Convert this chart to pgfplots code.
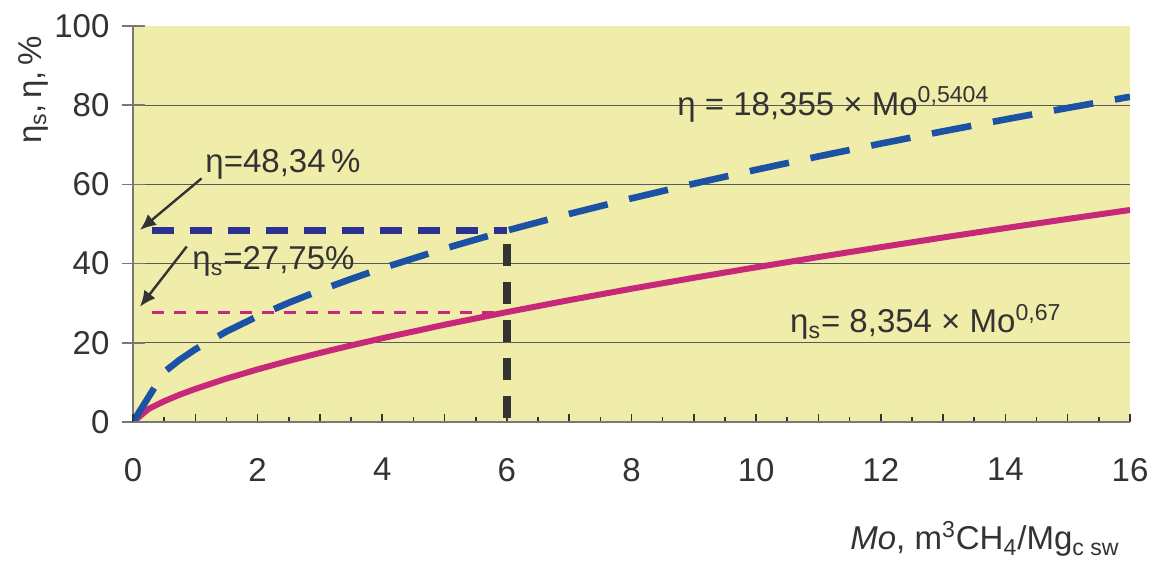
\documentclass[border=0pt]{standalone}
\usepackage{fontspec}
\setmainfont{Liberation Sans}
\usepackage{pgfplots}
\pgfplotsset{compat=1.18}
\usetikzlibrary{arrows.meta}
\definecolor{bgy}{RGB}{240,236,170}
\definecolor{etablue}{RGB}{28,82,165}
\definecolor{navy}{RGB}{43,50,145}
\definecolor{mag}{RGB}{200,40,122}
\definecolor{darkg}{RGB}{51,51,51}
\definecolor{gridg}{RGB}{90,90,90}
\definecolor{axg}{RGB}{120,120,120}
\newcommand\bigf{\fontsize{16.5}{19.8}\selectfont}
\begin{document}
\begin{tikzpicture}
\path[use as bounding box] (0,0) rectangle (575.5pt,280.5pt);
\begin{axis}[
  at={(66.5pt,69.5pt)}, anchor=south west,
  scale only axis, width=498.5pt, height=198pt,
  xmin=0,xmax=16,ymin=0,ymax=100,
  axis lines*=left,
  axis line style={axg, line width=0.8pt},
  axis background/.style={fill=bgy},
  xtick=\empty,
  ytick={0,20,...,100},
  extra y ticks={20,40,60,80},
  extra y tick labels={},
  extra y tick style={grid=major},
  grid style={gridg, line width=0.6pt},
  tick align=center,
  major tick length=11.5pt,
  tick style={axg, line width=0.8pt},
  yticklabel style={font=\bigf, text=darkg, xshift=-2.5pt},
  /pgf/number format/assume math mode=true,
]
\addplot[darkg, line width=4pt, dash pattern=on 11pt off 8pt, dash phase=17pt] coordinates {(6,0) (6,48.34)};
\addplot[navy, line width=3.8pt, dash pattern=on 11pt off 8pt] coordinates {(0.3,48.34) (6,48.34)};
\addplot[mag, line width=1.6pt, dash pattern=on 6pt off 5pt] coordinates {(0.3,27.75) (6,27.75)};
\addplot[mag, line width=3pt] coordinates {
(0,0) (0.25,3.30) (0.5,5.25) (0.75,6.89) (1,8.354)
(1.5,10.96) (2,13.29) (2.5,15.44) (3,17.44) (3.5,19.34) (4,21.15) (5,24.56)
(6,27.75) (7,30.77) (8,33.65) (9,36.41) (10,39.07) (11,41.65) (12,44.15)
(13,46.59) (14,48.96) (15,51.27) (16,53.54)};
\addplot[etablue, line width=3.3pt, dash pattern=on 20pt off 11pt] coordinates {
(0,0) (0.5,12.62) (0.75,15.71) (1,18.355)
(1.5,22.85) (2,26.70) (2.5,30.12) (3,33.24) (3.5,36.12) (4,38.83) (5,43.80)
(6,48.34) (7,52.54) (8,56.47) (9,60.18) (10,63.70) (11,67.07) (12,70.30)
(13,73.41) (14,76.41) (15,79.31) (16,82.12)};
\node[anchor=base west, font=\bigf, text=darkg, inner sep=0pt] at (axis cs:8.73,77.5) {η = 18,355 × Mo\textsuperscript{0,5404}};
\node[anchor=base west, font=\bigf, text=darkg, inner sep=0pt] at (axis cs:10.54,22.5) {η\textsubscript{s}= 8,354 × Mo\textsuperscript{0,67}};
\node[anchor=base west, font=\bigf, text=darkg, inner sep=0pt] at (axis cs:1.156,63.1) {η=48,34\,\%};
\node[anchor=base west, font=\bigf, text=darkg, inner sep=0pt] at (axis cs:0.947,38.4) {η\textsubscript{s}=27,75\%};
\draw[darkg, line width=1.2pt, -{Latex[length=8pt,width=7pt]}] (axis cs:1.10,61.5) -- (axis cs:0.112,48.5);
\draw[darkg, line width=1.2pt, -{Latex[length=8pt,width=7pt]}] (axis cs:0.862,44.3) -- (axis cs:0.112,29.1);
\end{axis}
\begin{axis}[
  at={(66.5pt,69.5pt)}, anchor=south west,
  scale only axis, width=498.5pt, height=198pt,
  xmin=0,xmax=16,ymin=0,ymax=100,
  axis x line*=bottom, axis y line=none,
  axis line style={axg, line width=0.8pt},
  ytick=\empty,
  xtick={0,...,16},
  xticklabels={0,,2,,4,,6,,8,,10,,12,,14,,16},
  minor x tick num=1,
  tick align=inside,
  major tick length=4pt, minor tick length=2.5pt,
  tick style={darkg, line width=0.8pt},
  xticklabel style={font=\bigf, text=darkg, yshift=-14.5pt},
]
\end{axis}
\node[rotate=90, font=\bigf, text=darkg] at (16.5pt,235.5pt) {η\textsubscript{s},\,η,\,\%};
\node[anchor=base east, font=\bigf, text=darkg, inner sep=0pt] at (560pt,5.5pt) {\textit{Mo}, m\textsuperscript{3}CH\textsubscript{4}/Mg\textsubscript{c sw}};
\end{tikzpicture}
\end{document}
